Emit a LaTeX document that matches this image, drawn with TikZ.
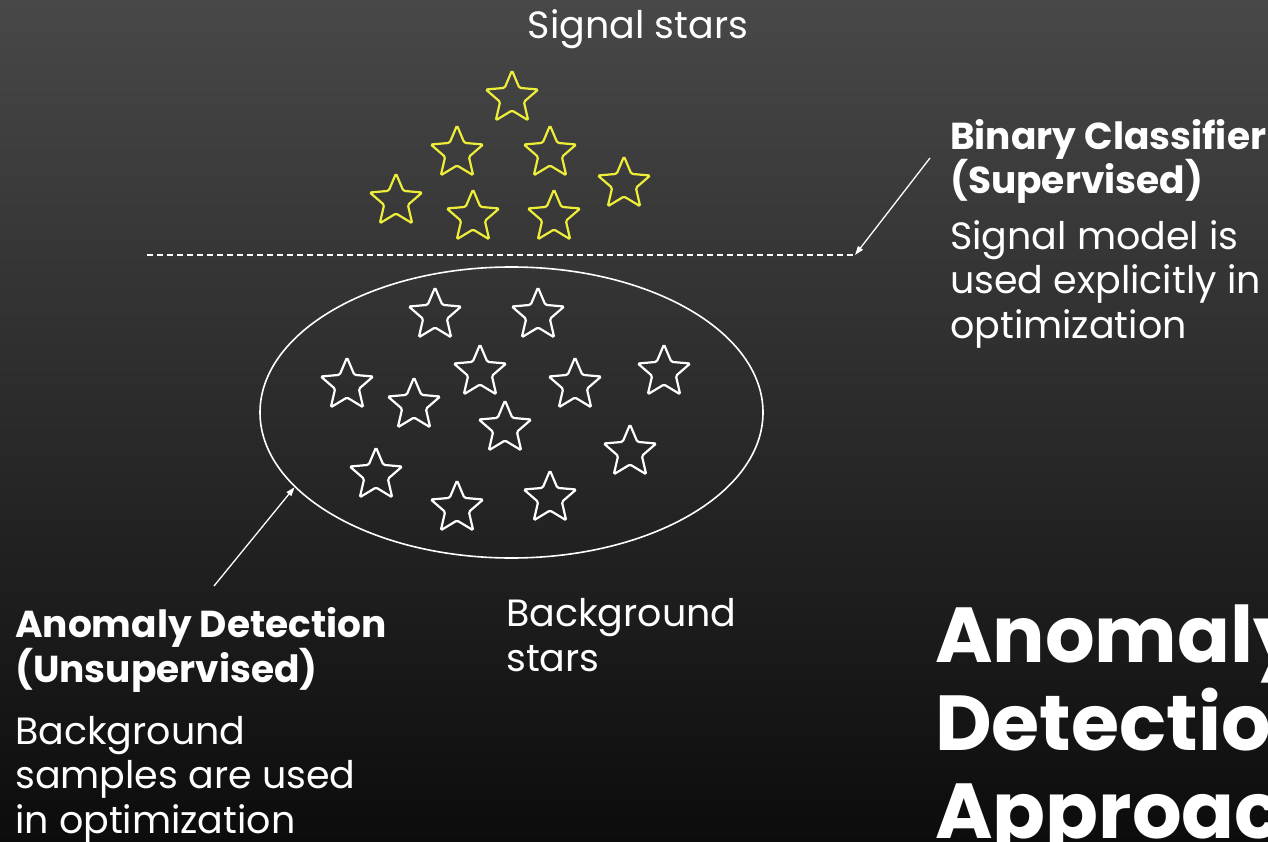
\documentclass[tikz,border=0pt]{standalone}
\usepackage{fontspec}
\setmainfont{Poppins}
\usetikzlibrary{shapes.geometric,arrows.meta,positioning}
\definecolor{sigyellow}{RGB}{238,238,58}
\definecolor{bgtop}{RGB}{72,72,72}
\definecolor{bgbot}{RGB}{12,12,12}
\tikzset{
  sigstar/.style={star,star points=5,star point ratio=2.2,minimum size=55pt,inner sep=0pt,
    draw=sigyellow,line width=2.2pt,rounded corners=1.5pt},
  bkgstar/.style={sigstar,draw=white},
  txt/.style={text=white,anchor=base west,align=left,inner sep=0pt,
    font=\fontsize{38}{44.5}\selectfont},
  headtxt/.style={txt,font=\bfseries\fontsize{37.5}{44.5}\selectfont},
  pointer/.style={draw=white,line width=1.3pt,-{Triangle[length=9pt,width=6pt]}}
}
\begin{document}
\begin{tikzpicture}[x=1pt,y=-1pt]
            % Frame and dark backdrop
            \clip (0,0) rectangle (1268,842);
            \shade[top color=bgtop,bottom color=bgbot] (0,0) rectangle (1268,842);
            % Signal stars above the cut
            \foreach \x/\y [count=\i] in {512/98,457/153,550/153,624/184,396/201,473/217,554/217}
              \node[sigstar] (sig\i) at (\x,\y) {};
            \node[txt,anchor=base] (sigtitle) at (638,39) {Signal stars};
            % Cut between signal and background
            \coordinate (cutL) at (147,255);
            \coordinate (cutR) at (855,255);
            \draw[white,line width=1.2pt,dash pattern=on 6pt off 4pt] (cutL) -- (cutR);
            % Background cloud
            \node[ellipse,draw=white,line width=1.6pt,minimum width=503pt,minimum height=291pt,inner sep=0pt]
              (bgcloud) at (511.5,412.5) {};
            \foreach \x/\y [count=\i] in {435/315,538/315,347/385,414/405,480/372,575/385,664/372,
                505/428,630/452,376/475,457/508,550/498}
              \node[bkgstar] (bkg\i) at (\x,\y) {};
            \node[txt] (bgtitle) at (506,671) {Background\\stars};
            % Supervised side (base = last line)
            \node[headtxt] (bchead) at (950,194) {Binary Classifier\\(Supervised)};
            \node[txt] (bcbody) at (950,338) {Signal model is\\used explicitly in\\optimization};
            \coordinate (bcfoot) at (930,158);
            \draw[pointer] (bcfoot) -- (cutR);
            % Unsupervised side
            \node[headtxt] (adhead) at (15,682) {Anomaly Detection\\(Unsupervised)};
            \node[txt] (adbody) at (15,833) {Background\\samples are used\\in optimization};
            \coordinate (adfoot) at (214,586);
            \draw[pointer] (adfoot) -- (bgcloud.199);
            % Big title, running off the edge
            \node[txt,font=\bfseries\fontsize{78}{88}\selectfont] (bigtitle) at (935,838)
              {Anomaly\\Detection\\Approach};
          \end{tikzpicture}
\end{document}
